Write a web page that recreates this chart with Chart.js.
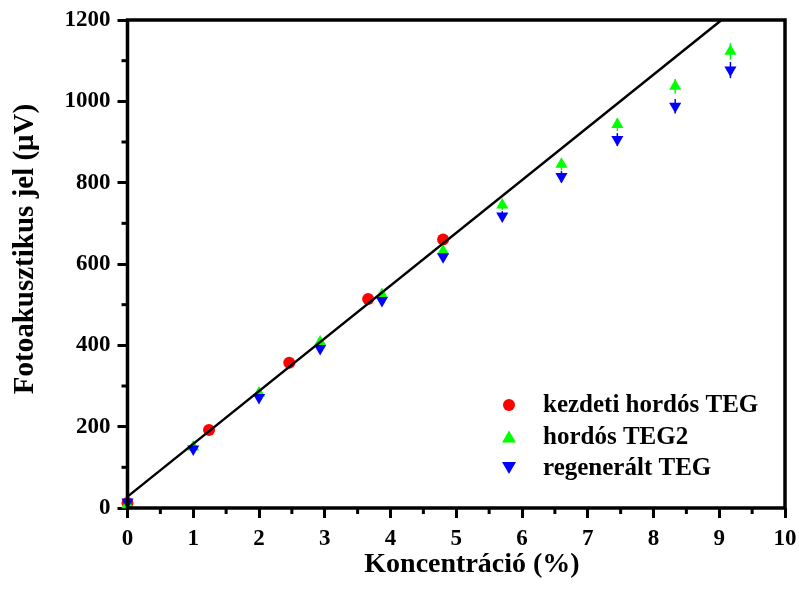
<!DOCTYPE html>
<html>
<head>
<meta charset="utf-8">
<script src="https://cdn.jsdelivr.net/npm/chart.js@4"></script>
<style>
  html, body { margin: 0; padding: 0; background: #fff; }
  #wrap { width: 799px; height: 592px; }
</style>
</head>
<body>
<div id="wrap"><canvas id="chart" width="799" height="592"></canvas></div>
<script>
// kezdeti hordós TEG
const kezdetiX = [0, 1.24, 2.46, 3.66, 4.80];
const kezdetiY = [12, 192, 357, 514, 660];

// hordós TEG2 and regenerált TEG share the same concentrations
const concX = [0, 1.0, 2.0, 2.93, 3.87, 4.80, 5.70, 6.60, 7.45, 8.33, 9.17];
const teg2Y = [8, 150, 283, 408, 525, 632, 745, 845, 943, 1037, 1123];
const teg2Err = [4, 6, 8, 8, 10, 10, 12, 14, 16, 18, 20];
const regenY = [15, 145, 272, 392, 510, 618, 718, 815, 906, 988, 1077];
const regenErr = [4, 6, 8, 8, 10, 10, 12, 14, 16, 18, 20];

// linear fit
const fitIntercept = 28;
const fitSlope = 129.7;
const fitXEnd = 9.04;

const xTicks = [0, 1, 2, 3, 4, 5, 6, 7, 8, 9, 10];
const yTicks = [0, 200, 400, 600, 800, 1000, 1200];

const legendLabels = ['kezdeti hordós TEG', 'hordós TEG2', 'regenerált TEG'];
const xTitle = 'Koncentráció (%)';
const yTitle = 'Fotoakusztikus jel (μV)';

const FONT = "'Liberation Serif', 'Times New Roman', serif";

function pts(xs, ys) {
    return xs.map((x, i) => ({ x: x, y: ys[i] }));
}

// minor ticks, error bars, frame, axis titles and the legend inside the plot
const extras = {
    id: 'extras',
    beforeDatasetsDraw(chart) {
        const ctx = chart.ctx;
        const xs = chart.scales.x, ys = chart.scales.y;
        ctx.save();
        ctx.lineWidth = 1.5;
        [[teg2Y, teg2Err, '#00ff00'], [regenY, regenErr, '#0000ff']].forEach(([vals, errs, col]) => {
            ctx.strokeStyle = col;
            vals.forEach((v, i) => {
                const px = xs.getPixelForValue(concX[i]);
                ctx.beginPath();
                ctx.moveTo(px, ys.getPixelForValue(v - errs[i]));
                ctx.lineTo(px, ys.getPixelForValue(v + errs[i]));
                ctx.stroke();
            });
        });
        ctx.restore();
    },
    afterDraw(chart) {
        const ctx = chart.ctx;
        const a = chart.chartArea;
        const xs = chart.scales.x, ys = chart.scales.y;
        ctx.save();
        ctx.strokeStyle = '#000';
        ctx.lineWidth = 3.5;
        ctx.strokeRect(a.left, a.top, a.right - a.left, a.bottom - a.top);

        ctx.lineWidth = 3;
        for (let i = 0; i < xTicks.length - 1; i++) {
            const px = xs.getPixelForValue(xTicks[i] + 0.5);
            ctx.beginPath();
            ctx.moveTo(px, a.bottom);
            ctx.lineTo(px, a.bottom + 6);
            ctx.stroke();
        }
        for (let i = 0; i < yTicks.length - 1; i++) {
            const py = ys.getPixelForValue(yTicks[i] + 100);
            ctx.beginPath();
            ctx.moveTo(a.left, py);
            ctx.lineTo(a.left - 6, py);
            ctx.stroke();
        }

        // axis titles
        ctx.fillStyle = '#000';
        ctx.textAlign = 'center';
        ctx.textBaseline = 'alphabetic';
        ctx.font = 'bold 28px ' + FONT;
        ctx.fillText(xTitle, 472, 572);
        ctx.save();
        ctx.translate(33, 249);
        ctx.rotate(-Math.PI / 2);
        ctx.font = 'bold 29px ' + FONT;
        ctx.fillText(yTitle, 0, 0);
        ctx.restore();

        // legend
        const lx = 509, ly = 405, gap = 31.5;
        const colors = ['#ff0000', '#00ff00', '#0000ff'];
        ctx.font = 'bold 25px ' + FONT;
        ctx.textAlign = 'left';
        ctx.textBaseline = 'middle';
        legendLabels.forEach((lab, i) => {
            const y = ly + i * gap;
            ctx.fillStyle = colors[i];
            ctx.beginPath();
            if (i === 0) {
                ctx.arc(lx, y, 6, 0, Math.PI * 2);
            } else if (i === 1) {
                ctx.moveTo(lx, y - 6); ctx.lineTo(lx + 7, y + 6); ctx.lineTo(lx - 7, y + 6);
            } else {
                ctx.moveTo(lx, y + 6); ctx.lineTo(lx + 7, y - 6); ctx.lineTo(lx - 7, y - 6);
            }
            ctx.closePath();
            ctx.fill();
            ctx.fillStyle = '#000';
            ctx.fillText(lab, 543, y + 1);
        });
        ctx.restore();
    }
};

// index 0 is drawn on top: fit line, then regenerált, TEG2, kezdeti
new Chart(document.getElementById('chart'), {
    type: 'scatter',
    data: {
        datasets: [
            {
                label: 'fit',
                type: 'line',
                data: [{ x: 0, y: fitIntercept }, { x: fitXEnd, y: fitIntercept + fitSlope * fitXEnd }],
                borderColor: '#000',
                borderWidth: 2.5,
                pointRadius: 0,
                fill: false
            },
            {
                label: legendLabels[2],
                data: pts(concX, regenY),
                pointStyle: 'triangle',
                rotation: 180,
                pointRadius: 7,
                backgroundColor: '#0000ff',
                borderColor: '#0000ff',
                borderWidth: 0
            },
            {
                label: legendLabels[1],
                data: pts(concX, teg2Y),
                pointStyle: 'triangle',
                pointRadius: 7,
                backgroundColor: '#00ff00',
                borderColor: '#00ff00',
                borderWidth: 0
            },
            {
                label: legendLabels[0],
                data: pts(kezdetiX, kezdetiY),
                pointStyle: 'circle',
                pointRadius: 6,
                backgroundColor: '#ff0000',
                borderColor: '#ff0000',
                borderWidth: 0
            }
        ]
    },
    options: {
        responsive: false,
        animation: false,
        clip: false,
        layout: { padding: { top: 20, right: 14, left: 0, bottom: 0 } },
        plugins: { legend: { display: false }, tooltip: { enabled: false } },
        scales: {
            x: {
                type: 'linear',
                min: 0,
                max: 10,
                afterFit(scale) {
                    scale.height = 84;
                    scale.paddingLeft = 0;
                    scale.paddingRight = 0;
                },
                afterBuildTicks(scale) { scale.ticks = xTicks.map(v => ({ value: v })); },
                ticks: { color: '#000', font: { family: FONT, size: 23, weight: 'bold' }, padding: 7, callback: v => String(v) },
                grid: { drawOnChartArea: false, tickLength: 10, tickWidth: 3, tickColor: '#000' },
                border: { display: false }
            },
            y: {
                type: 'linear',
                min: 0,
                max: 1200,
                afterFit(scale) {
                    scale.width = 127.5;
                    scale.paddingTop = 0;
                    scale.paddingBottom = 0;
                },
                afterBuildTicks(scale) { scale.ticks = yTicks.map(v => ({ value: v })); },
                ticks: { color: '#000', font: { family: FONT, size: 23, weight: 'bold' }, padding: 7, callback: v => String(v) },
                grid: { drawOnChartArea: false, tickLength: 10, tickWidth: 3, tickColor: '#000' },
                border: { display: false }
            }
        }
    },
    plugins: [extras]
});
</script>
</body>
</html>
